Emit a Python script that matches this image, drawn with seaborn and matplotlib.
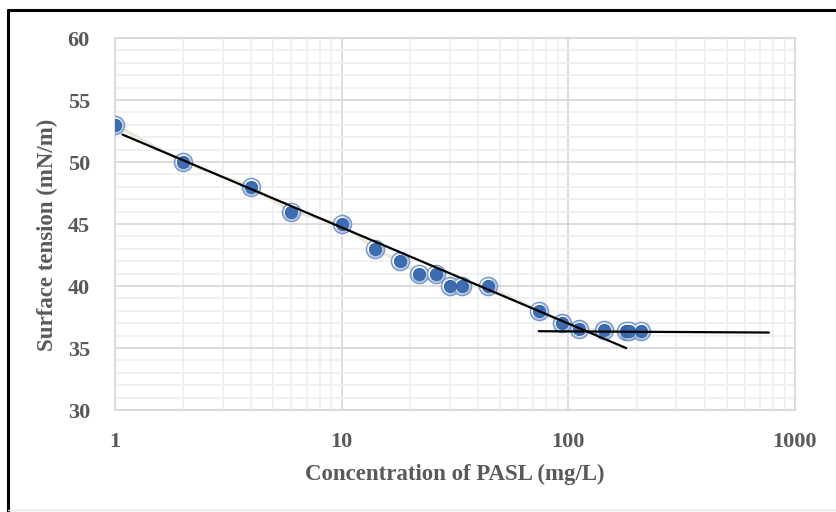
import numpy as np
import pandas as pd
import matplotlib
matplotlib.use("Agg")
import matplotlib.pyplot as plt
from matplotlib.lines import Line2D
from matplotlib.ticker import LogLocator, MultipleLocator, FixedLocator, FixedFormatter
import seaborn as sns

# Surface tension measurements
concentration = [1, 2, 4, 6, 10, 14, 18, 22, 26, 30, 34, 44, 74, 94, 112, 144, 180, 186, 210]
surface_tension = [53, 50, 48, 46, 45, 43, 42, 41, 41, 40, 40, 40, 38, 37, 36.5, 36.45, 36.4, 36.4, 36.4]

# Linear fits in log10(concentration): y = a + b*log10(x)
fit_pre_x = [1.08, 180]
fit_pre_coef = (52.47, -7.75)
fit_post_x = [74, 767]
fit_post_coef = (36.55, -0.105)

x_ticks = [1, 10, 100, 1000]
x_tick_labels = ["1", "10", "100", "1000"]
y_ticks = [30, 35, 40, 45, 50, 55, 60]

sns.set_theme(style="white")
plt.rcParams["font.family"] = ["Liberation Serif", "DejaVu Serif"]

W, H, DPI = 836, 512, 100
fig = plt.figure(figsize=(W / DPI, H / DPI), dpi=DPI)
ax = fig.add_axes([115 / W, 1 - 410 / H, (795 - 115) / W, (410 - 38) / H])

df = pd.DataFrame({"c": concentration, "st": surface_tension})

def fit_frame(xs, coef):
    a, b = coef
    xs = np.array(xs, dtype=float)
    return pd.DataFrame({"c": xs, "st": a + b * np.log10(xs)})

# faint connector between points
sns.lineplot(data=df, x="c", y="st", ax=ax, color="#e9e7da", lw=2.2, zorder=2, sort=False)

# fit lines
sns.lineplot(data=fit_frame(fit_pre_x, fit_pre_coef), x="c", y="st", ax=ax,
             color="black", lw=1.6, zorder=5)
sns.lineplot(data=fit_frame(fit_post_x, fit_post_coef), x="c", y="st", ax=ax,
             color="black", lw=1.6, zorder=5)

# layered markers: outer glow, white ring, blue core
sns.scatterplot(data=df, x="c", y="st", ax=ax, s=175, color="#a9c0e2",
                edgecolor="#7194c9", linewidth=0.9, zorder=3, alpha=0.95)
sns.scatterplot(data=df, x="c", y="st", ax=ax, s=110, color="white",
                edgecolor="none", zorder=4)
sns.scatterplot(data=df, x="c", y="st", ax=ax, s=78, color="#3c6db3",
                edgecolor="#2f5a99", linewidth=0.6, zorder=4.5)

ax.set_xscale("log")
ax.set_xlim(1, 1000)
ax.set_ylim(30, 60)

ax.xaxis.set_major_locator(FixedLocator(x_ticks))
ax.xaxis.set_major_formatter(FixedFormatter(x_tick_labels))
ax.xaxis.set_minor_locator(LogLocator(base=10, subs=np.arange(2, 10)))
ax.xaxis.set_minor_formatter(plt.NullFormatter())
ax.yaxis.set_major_locator(FixedLocator(y_ticks))
ax.yaxis.set_minor_locator(MultipleLocator(1))

ax.grid(which="major", color="#d9d9d9", lw=1.3, zorder=0)
ax.grid(which="minor", color="#efefef", lw=1.3, zorder=0)
ax.set_axisbelow(True)
for sp in ax.spines.values():
    sp.set_color("#d9d9d9")
    sp.set_linewidth(1.3)

ax.tick_params(axis="both", which="both", length=0)
ax.tick_params(axis="y", pad=18, labelsize=16, labelcolor="#595959")
ax.tick_params(axis="x", pad=16, labelsize=16, labelcolor="#595959")
for lab in ax.get_xticklabels() + ax.get_yticklabels():
    lab.set_fontweight("bold")

ax.set_xlabel("Concentration of PASL (mg/L)", fontsize=16.5, fontweight="bold",
              color="#595959", labelpad=8)
ax.set_ylabel("Surface tension (mN/m)", fontsize=16.5, fontweight="bold",
              color="#595959")
ax.yaxis.set_label_coords(-0.084, 0.47)

# outer frame of the chart
fig.add_artist(Line2D([8 / W, 1.0], [1 - 10 / H, 1 - 10 / H], transform=fig.transFigure,
                      color="black", lw=2.2))
fig.add_artist(Line2D([8 / W, 8 / W], [1 - 10 / H, 1 - 511 / H], transform=fig.transFigure,
                      color="black", lw=2.2))
fig.add_artist(Line2D([8 / W, 1.0], [1 - 510 / H, 1 - 510 / H], transform=fig.transFigure,
                      color="#e4e4e4", lw=1.0))

fig.savefig("out.png", dpi=DPI)
